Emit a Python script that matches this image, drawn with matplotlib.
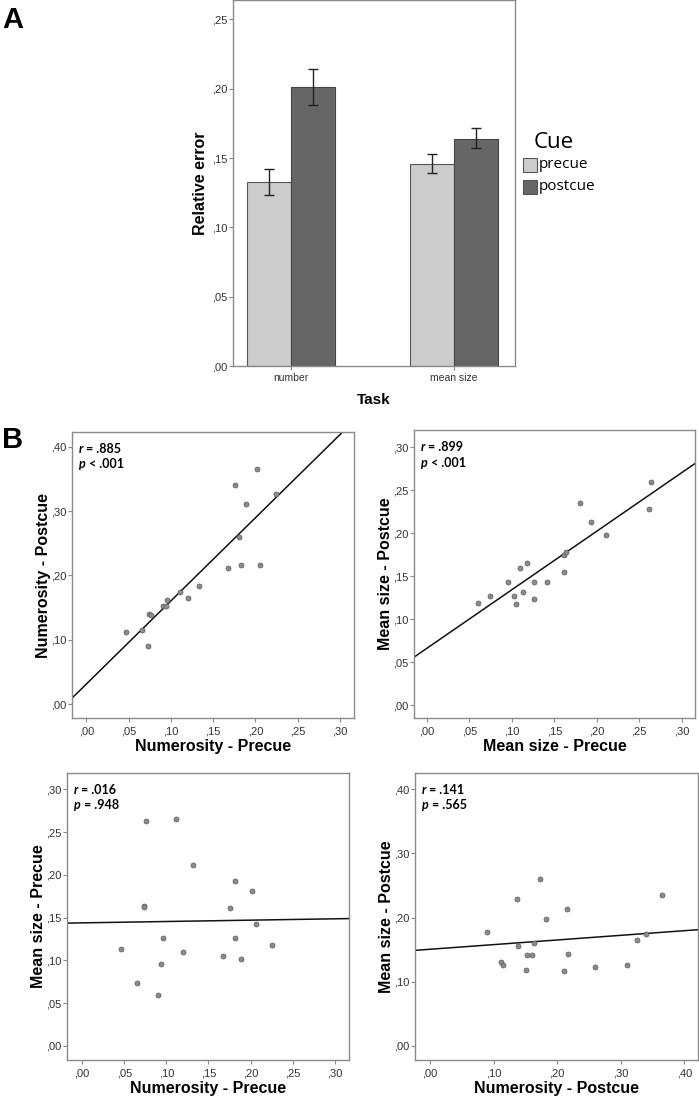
import numpy as np
import matplotlib
matplotlib.use("Agg")
import matplotlib.pyplot as plt
from matplotlib.ticker import FuncFormatter, FixedLocator

# ---------------- data ----------------
tasks = ["number", "mean size"]
cue_levels = ["precue", "postcue"]
err_precue = [0.133, 0.146]
err_postcue = [0.201, 0.164]
ci_precue_lo = [0.1234, 0.139]
ci_precue_hi = [0.1424, 0.153]
ci_postcue_lo = [0.1885, 0.157]
ci_postcue_hi = [0.214, 0.172]

# Panel B1: Numerosity precue vs postcue
b1_x = [0.047, 0.066, 0.074, 0.076, 0.073, 0.091, 0.094, 0.096, 0.111, 0.120,
        0.133, 0.168, 0.176, 0.181, 0.183, 0.189, 0.202, 0.206, 0.225]
b1_y = [0.113, 0.116, 0.140, 0.139, 0.090, 0.153, 0.153, 0.162, 0.174, 0.165,
        0.184, 0.211, 0.340, 0.260, 0.216, 0.311, 0.366, 0.217, 0.327]
# Panel B2: Mean size precue vs postcue
b2_x = [0.060, 0.074, 0.096, 0.102, 0.105, 0.110, 0.113, 0.118, 0.126, 0.126,
        0.142, 0.161, 0.161, 0.164, 0.180, 0.193, 0.211, 0.262, 0.264]
b2_y = [0.119, 0.1265, 0.143, 0.127, 0.117, 0.1595, 0.131, 0.165, 0.143, 0.123,
        0.143, 0.155, 0.175, 0.178, 0.235, 0.213, 0.198, 0.2286, 0.260]
# Panel B3: Numerosity precue vs Mean size precue
b3_x = [0.0466, 0.065, 0.073, 0.074, 0.076, 0.090, 0.094, 0.096, 0.111, 0.120,
        0.132, 0.167, 0.176, 0.181, 0.182, 0.189, 0.202, 0.206, 0.225]
b3_y = [0.113, 0.074, 0.164, 0.162, 0.263, 0.060, 0.096, 0.126, 0.265, 0.110,
        0.212, 0.105, 0.161, 0.126, 0.193, 0.102, 0.181, 0.142, 0.118]
# Panel B4: Numerosity postcue vs Mean size postcue
b4_x = [0.089, 0.112, 0.115, 0.137, 0.138, 0.151, 0.152, 0.161, 0.164, 0.1735,
        0.182, 0.210, 0.215, 0.2165, 0.259, 0.310, 0.325, 0.339, 0.365]
b4_y = [0.178, 0.131, 0.126, 0.229, 0.155, 0.119, 0.142, 0.142, 0.160, 0.260,
        0.198, 0.117, 0.213, 0.143, 0.123, 0.126, 0.165, 0.175, 0.235]

stats_text = [("r", " = .885", "p", " < .001"),
              ("r", " = .899", "p", " < .001"),
              ("r", " = .016", "p", " = .948"),
              ("r", " = .141", "p", " = .565")]

# ---------------- layout helpers ----------------
W, H = 699, 1097
fig = plt.figure(figsize=(W / 100, H / 100), dpi=100)
plt.rcParams['font.family'] = ['Liberation Sans', 'DejaVu Sans']

def px_axes(l, t, r, b):
    return fig.add_axes([l / W, 1 - b / H, (r - l) / W, (b - t) / H])

frame_col = "#8a8a8a"
tick_fmt = FuncFormatter(lambda v, p: f"{v:.2f}".replace("0.", ",", 1))

def style_axes(ax):
    for s in ax.spines.values():
        s.set_color(frame_col)
        s.set_linewidth(1.0)
    ax.tick_params(axis="both", direction="out", length=3, width=0.8,
                   color=frame_col, labelsize=8, labelcolor="#333333", pad=1)

# ---------------- Panel A ----------------
axA = px_axes(233, 0, 515, 366)
style_axes(axA)
xpos = np.arange(len(tasks))
bw = 0.27
pre_col, post_col = "#cccccc", "#666666"
axA.bar(xpos - bw / 2, err_precue, width=bw, color=pre_col, edgecolor="#555555", linewidth=0.8)
axA.bar(xpos + bw / 2, err_postcue, width=bw, color=post_col, edgecolor="#444444", linewidth=0.8)
for xs, lo, hi, m in [(xpos - bw / 2, ci_precue_lo, ci_precue_hi, err_precue),
                      (xpos + bw / 2, ci_postcue_lo, ci_postcue_hi, err_postcue)]:
    m = np.array(m)
    yerr = np.vstack([m - np.array(lo), np.array(hi) - m])
    axA.errorbar(xs, m, yerr=yerr, fmt="none", ecolor="#222222", elinewidth=1.0,
                 capsize=3.8, capthick=1.0)
axA.set_xlim(-0.356, 1.374)
axA.set_ylim(0, 0.264)
axA.yaxis.set_major_locator(FixedLocator([0, 0.05, 0.10, 0.15, 0.20, 0.25]))
axA.yaxis.set_major_formatter(tick_fmt)
axA.set_xticks(xpos)
axA.set_xticklabels(tasks)
axA.tick_params(axis="x", labelsize=7.5, pad=2)
axA.set_ylabel("Relative error", fontsize=11.5, fontweight="bold", labelpad=3)
axA.set_xlabel("Task", fontsize=11, fontweight="bold", labelpad=7)

# legend
fig.text(534 / W, 1 - 142 / H, "Cue", fontsize=16, ha="left", va="center",
         family=["Open Sans", "DejaVu Sans"])
for i, (lab, col) in enumerate(zip(cue_levels, [pre_col, post_col])):
    yc = 165 + i * 22
    fig.patches.append(matplotlib.patches.Rectangle(
        (523 / W, 1 - (yc + 7) / H), 14 / W, 14 / H, transform=fig.transFigure,
        facecolor=col, edgecolor="#555555", linewidth=0.8))
    fig.text(539 / W, 1 - yc / H, lab, fontsize=11, ha="left", va="center",
             family=["Open Sans", "DejaVu Sans"])

fig.text(2 / W, 1 - 20 / H, "A", fontsize=21, fontweight="bold", ha="left", va="center")
fig.text(2 / W, 1 - 440 / H, "B", fontsize=21, fontweight="bold", ha="left", va="center")

# ---------------- Panel B scatters ----------------
panels = [
    (px_axes(72, 432, 354, 718), b1_x, b1_y, (-0.0169, 0.3167), (-0.0213, 0.4228),
     np.arange(0, 0.31, 0.05), np.arange(0, 0.41, 0.10),
     "Numerosity - Precue", "Numerosity - Postcue"),
    (px_axes(414, 430, 695, 718), b2_x, b2_y, (-0.0153, 0.3158), (-0.0151, 0.320),
     np.arange(0, 0.31, 0.05), np.arange(0, 0.31, 0.05),
     "Mean size - Precue", "Mean size - Postcue"),
    (px_axes(67, 773, 349, 1060), b3_x, b3_y, (-0.0178, 0.3167), (-0.0164, 0.319),
     np.arange(0, 0.31, 0.05), np.arange(0, 0.31, 0.05),
     "Numerosity - Precue", "Mean size - Precue"),
    (px_axes(415, 773, 698, 1060), b4_x, b4_y, (-0.0236, 0.4215), (-0.0218, 0.425),
     np.arange(0, 0.41, 0.10), np.arange(0, 0.41, 0.10),
     "Numerosity - Postcue", "Mean size - Postcue"),
]

for (ax, xs, ys, xl, yl, xt, yt, xlab, ylab), st in zip(panels, stats_text):
    style_axes(ax)
    xs = np.array(xs); ys = np.array(ys)
    ax.scatter(xs, ys, s=13, color="#8c8c8c", edgecolor="#5a5a5a", linewidth=0.5, zorder=3)
    k, b = np.polyfit(xs, ys, 1)
    xx = np.array(xl)
    ax.plot(xx, k * xx + b, color="#111111", linewidth=1.1, zorder=2)
    ax.set_xlim(*xl)
    ax.set_ylim(*yl)
    ax.xaxis.set_major_locator(FixedLocator(xt))
    ax.yaxis.set_major_locator(FixedLocator(yt))
    ax.xaxis.set_major_formatter(tick_fmt)
    ax.yaxis.set_major_formatter(tick_fmt)
    ax.tick_params(axis="x", pad=3)
    ax.set_xlabel(xlab, fontsize=11.5, fontweight="bold", labelpad=2)
    ax.set_ylabel(ylab, fontsize=11.5, fontweight="bold", labelpad=0)
    fam = ["Lato", "DejaVu Sans"]
    t1 = ax.text(0.025, 0.94, st[0], transform=ax.transAxes, fontsize=9, fontweight="bold",
                 fontstyle="italic", ha="left", va="center", family=fam)
    ax.annotate(st[1], xy=(1, 0), xycoords=t1, fontsize=9, fontweight="bold",
                ha="left", va="bottom", family=fam)
    t2 = ax.text(0.025, 0.887, st[2], transform=ax.transAxes, fontsize=9, fontweight="bold",
                 fontstyle="italic", ha="left", va="center", family=fam)
    ax.annotate(st[3], xy=(1, 0), xycoords=t2, fontsize=9, fontweight="bold",
                ha="left", va="bottom", family=fam)

fig.savefig("out.png", dpi=100)
